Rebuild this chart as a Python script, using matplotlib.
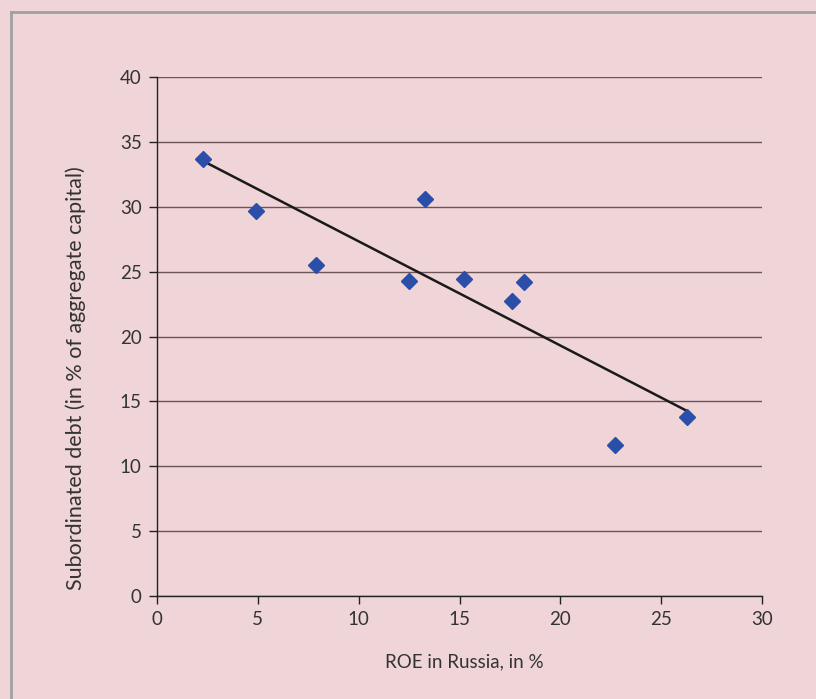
import numpy as np
import matplotlib
matplotlib.use("Agg")
import matplotlib.pyplot as plt
from matplotlib.lines import Line2D

roe = [2.3, 4.9, 7.9, 12.5, 13.3, 15.2, 17.6, 18.2, 22.7, 26.3]
sub_debt = [33.7, 29.7, 25.5, 24.3, 30.6, 24.4, 22.7, 24.2, 11.6, 13.8]
x_ticks = [0, 5, 10, 15, 20, 25, 30]
y_ticks = [0, 5, 10, 15, 20, 25, 30, 35, 40]

bg = "#EFD4D8"
txt = "#333333"
plt.rcParams['font.family'] = ['Lato', 'DejaVu Sans']

fig = plt.figure(figsize=(8.16, 6.99), dpi=100, facecolor=bg)
ax = fig.add_axes([157/816, 1-596/699, (762-157)/816, (596-77)/699])
ax.set_facecolor(bg)

# frame lines of the panel
fig.add_artist(Line2D([11/816, 11/816], [0, 1-12/699], transform=fig.transFigure,
                      color="#A0A0A0", lw=2))
fig.add_artist(Line2D([11/816, 1], [1-12/699, 1-12/699], transform=fig.transFigure,
                      color="#A0A0A0", lw=2))

ax.set_xlim(0, 30)
ax.set_ylim(0, 40)
ax.set_xticks(x_ticks)
ax.set_yticks(y_ticks)
ax.yaxis.grid(True, color="#6B5558", lw=1)
ax.set_axisbelow(True)
for s in ["top", "right"]:
    ax.spines[s].set_visible(False)
for s in ["left", "bottom"]:
    ax.spines[s].set_color("#222222")
    ax.spines[s].set_linewidth(1)
ax.tick_params(direction="out", length=6, width=1, color="#222222",
               labelsize=13.5, labelcolor=txt, pad=5)

x = np.array(roe)
y = np.array(sub_debt)
k, b = np.polyfit(x, y, 1)
xl = np.array([x.min(), x.max()])
ax.plot(xl, k*xl + b, color="#1A1A1A", lw=1.8, zorder=2)
ax.plot(x, y, linestyle="none", marker="D", ms=8, color="#2B4FA8", zorder=3)

fig.text(464/816, 1-662/699, "ROE in Russia, in %", fontsize=13.5, color=txt,
         ha="center", va="center")
fig.text(76/816, 1-378/699, "Subordinated debt (in % of aggregate capital)",
         fontsize=15.5, color=txt, rotation=90, ha="center", va="center")

fig.savefig("out.png", dpi=100, facecolor=bg)
